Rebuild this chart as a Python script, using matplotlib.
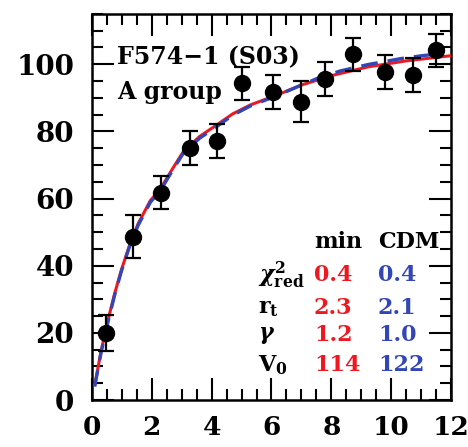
import matplotlib
matplotlib.use('Agg')
import matplotlib.pyplot as plt
from matplotlib.ticker import MultipleLocator

plt.rcParams['font.family'] = 'DejaVu Serif'
plt.rcParams['font.weight'] = 'bold'
plt.rcParams['mathtext.fontset'] = 'custom'
plt.rcParams['mathtext.rm'] = 'DejaVu Serif:bold'
plt.rcParams['mathtext.it'] = 'DejaVu Serif:italic:bold'
plt.rcParams['mathtext.bf'] = 'DejaVu Serif:bold'

# observed rotation curve (radius, velocity, error)
r_obs = [0.48, 1.38, 2.32, 3.29, 4.18, 5.0, 6.06, 7.0, 7.79, 8.71, 9.8, 10.73, 11.51]
v_obs = [20.0, 48.6, 61.8, 75.1, 77.1, 94.3, 91.7, 88.9, 95.6, 102.9, 97.7, 96.8, 104.1]
v_err = [5.4, 6.4, 5.0, 5.0, 5.0, 5.0, 5.0, 6.0, 5.0, 5.0, 5.0, 5.0, 5.0]

# fitted curves
r_min = [0.09, 0.3, 0.54, 0.75, 0.98, 1.25, 1.54, 1.95, 2.28, 2.7, 3.06, 3.6, 4.18, 4.7, 5.3, 6.2, 7.0, 8.0, 9.22, 10.5, 11.96, 12.3]
v_min = [4.3, 14.5, 24.0, 31.5, 38.7, 46.0, 52.5, 59.4, 62.8, 69.0, 74.1, 78.5, 82.0, 85.2, 87.9, 90.9, 93.8, 96.6, 99.2, 101.0, 102.5, 102.8]
r_cdm = [0.09, 0.3, 0.54, 0.75, 0.98, 1.25, 1.54, 1.95, 2.28, 2.7, 3.06, 3.6, 4.18, 4.7, 5.3, 6.2, 7.0, 7.54, 8.3, 9.22, 10.34, 11.0, 11.68]
v_cdm = [4.0, 14.0, 23.5, 31.0, 38.3, 45.6, 52.0, 58.9, 62.3, 68.5, 73.6, 78.0, 81.5, 84.8, 87.6, 90.7, 93.8, 95.8, 98.0, 99.9, 101.7, 102.5, 103.2]

title_lines = ['F574\u22121 (S03)', 'A group']
row_labels = [r'$\chi^2_{\mathrm{red}}$', r'$\mathrm{r_t}$', r'$\gamma$', r'$\mathrm{V_0}$']
min_vals = ['0.4', '2.3', '1.2', '114']
cdm_vals = ['0.4', '2.1', '1.0', '122']

RED = '#f01820'
BLUE = '#3346b8'

fig = plt.figure(figsize=(4.68, 4.47), dpi=100)
ax = fig.add_axes([0.1966, 0.105, 0.767, 0.864])

ax.plot(r_min, v_min, color=RED, lw=2.2, zorder=3, solid_capstyle='butt')
ax.plot(r_cdm, v_cdm, color=BLUE, lw=2.4, ls=(0, (5, 3)), zorder=4)
ax.errorbar(r_obs, v_obs, yerr=v_err, fmt='o', color='black', ms=11.5,
            elinewidth=1.6, capsize=6, capthick=1.6, zorder=5)

ax.set_xlim(0, 12)
ax.set_ylim(0, 115)
ax.xaxis.set_major_locator(MultipleLocator(2))
ax.xaxis.set_minor_locator(MultipleLocator(0.5))
ax.yaxis.set_major_locator(MultipleLocator(20))
ax.yaxis.set_minor_locator(MultipleLocator(5))
ax.tick_params(which='both', direction='in', top=True, right=True, width=1.5)
ax.tick_params(which='major', length=16, labelsize=20)
ax.tick_params(which='minor', length=8)
ax.tick_params(axis='x', pad=11, labelsize=19)
ax.tick_params(axis='y', pad=13)
for s in ax.spines.values():
    s.set_linewidth(1.8)

ax.text(0.84, 102, title_lines[0], fontsize=17, va='center', ha='left')
ax.text(0.84, 91.7, title_lines[1], fontsize=17, va='center', ha='left')

ax.text(7.42, 47.2, 'min', fontsize=16, va='center', ha='left')
ax.text(9.56, 47.2, 'CDM', fontsize=16, va='center', ha='left')
row_y = [37.2, 27.4, 19.5, 10.3]
for lab, a, b, y in zip(row_labels, min_vals, cdm_vals, row_y):
    ax.text(5.54, y, lab, fontsize=16, va='center', ha='left')
    ax.text(7.42, y, a, fontsize=16, va='center', ha='left', color=RED)
    ax.text(9.56, y, b, fontsize=16, va='center', ha='left', color=BLUE)

fig.savefig('out.png', dpi=100)
